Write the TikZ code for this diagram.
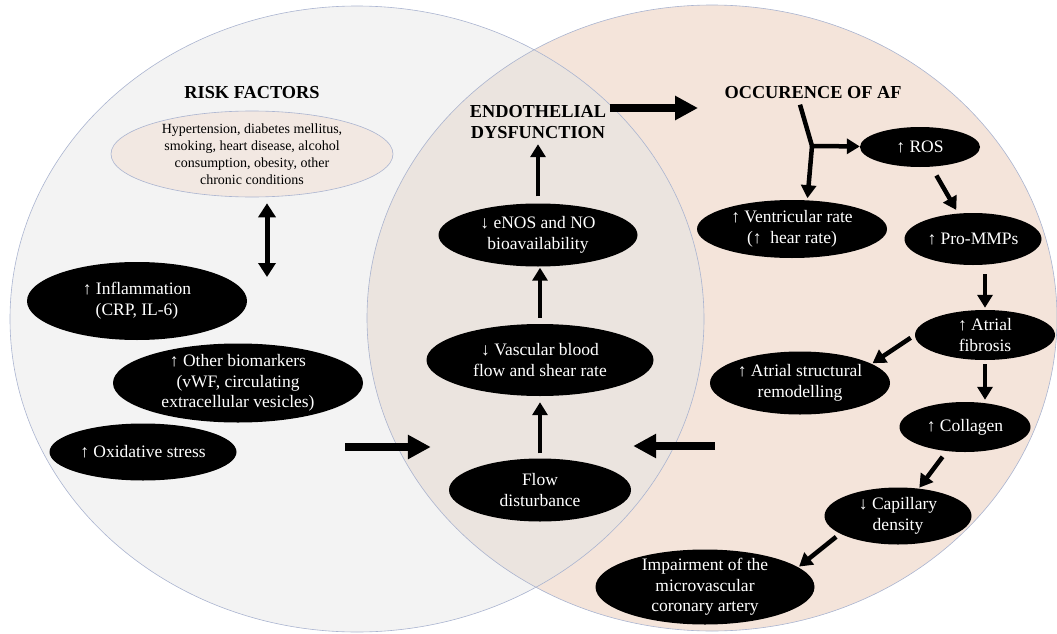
\documentclass[tikz,border=0pt]{standalone}
\usepackage{fontspec}
\setmainfont{Liberation Serif}
\usetikzlibrary{arrows.meta,shapes.geometric}

\definecolor{leftfill}{RGB}{243,243,243}
\definecolor{rightfill}{RGB}{244,228,218}
\definecolor{overlapfill}{RGB}{235,228,223}
\definecolor{rimblue}{RGB}{170,180,208}
\definecolor{riskfill}{RGB}{242,232,226}

\begin{document}
\begin{tikzpicture}[x=1pt, y=-1pt,
    blob/.style={ellipse, fill=black, text=white, align=center, inner sep=0pt, font=\fontsize{17.5}{20.7}\selectfont},
    heading/.style={align=center, font=\fontsize{18.3}{21}\selectfont\bfseries},
    flowarrow/.style={line width=4.5pt, -{Triangle[length=13pt,width=15pt]}},
    bigarrow/.style={line width=8.5pt, -{Triangle[length=23pt,width=23pt]}},
    dblarrow/.style={line width=5pt, {Triangle[length=14pt,width=17pt]}-{Triangle[length=14pt,width=17pt]}},
]
    \useasboundingbox (0,0) rectangle (1057,634);

    \fill[leftfill] (357,319) ellipse [x radius=347pt, y radius=313pt];
    \fill[rightfill] (712,318) ellipse [x radius=345pt, y radius=313pt];
    \begin{scope}
        \clip (357,319) ellipse [x radius=347pt, y radius=313pt];
        \fill[overlapfill] (712,318) ellipse [x radius=345pt, y radius=313pt];
    \end{scope}
    \draw[rimblue, line width=0.6pt] (357,319) ellipse [x radius=347pt, y radius=313pt];
    \draw[rimblue, line width=0.6pt] (712,318) ellipse [x radius=345pt, y radius=313pt];

    \node[heading] (riskhead) at (252,93) {RISK FACTORS};
    \node[ellipse, draw=rimblue, fill=riskfill, line width=0.6pt, inner xsep=0pt, inner ysep=-4pt,
          minimum width=282pt, minimum height=86pt, align=center, font=\fontsize{14}{17}\selectfont]
          (risk) at (252,154) {Hypertension, diabetes mellitus,\\smoking, heart disease, alcohol\\consumption, obesity, other\\chronic conditions};
    \node[blob, minimum width=220pt, minimum height=78pt] (inflam) at (137,301) {↑ Inflammation\\(CRP, IL-6)};
    \node[blob, minimum width=250pt, minimum height=79pt, inner ysep=-4pt] (biomark) at (238,383) {↑ Other biomarkers\\(vWF, circulating\\extracellular vesicles)};
    \node[blob, minimum width=187pt, minimum height=57pt] (oxid) at (143,452) {↑ Oxidative stress};

    \node[heading] (endo) at (538,122) {ENDOTHELIAL\\DYSFUNCTION};
    \node[blob, minimum width=199pt, minimum height=63pt] (enos) at (538,235) {↓ eNOS and NO\\bioavailability};
    \node[blob, minimum width=227pt, minimum height=72pt] (vasc) at (540,360) {↓ Vascular blood\\flow and shear rate};
    \node[blob, minimum width=182pt, minimum height=63pt] (flow) at (540,490) {Flow\\disturbance};

    \node[heading] (occ) at (813,93) {OCCURENCE OF AF};
    \node[blob, minimum width=120pt, minimum height=40pt] (ros) at (920,147) {↑ ROS};
    \node[blob, minimum width=190pt, minimum height=58pt] (vent) at (792,229) {↑ Ventricular rate\\(↑\ \ hear rate)};
    \node[blob, minimum width=137pt, minimum height=52pt] (mmp) at (973,239) {↑ Pro-MMPs};
    \node[blob, minimum width=140pt, minimum height=50pt, inner ysep=-3pt] (fib) at (985,335) {↑ Atrial\\fibrosis};
    \node[blob, minimum width=180pt, minimum height=63pt] (struct) at (800,383) {↑ Atrial structural\\remodelling};
    \node[blob, minimum width=131pt, minimum height=50pt] (coll) at (965,427) {↑ Collagen};
    \node[blob, minimum width=147pt, minimum height=57pt] (cap) at (898,516) {↓ Capillary\\density};
    \node[blob, minimum width=219pt, minimum height=75pt, inner ysep=-4pt] (imp) at (705,587) {Impairment of the\\microvascular\\coronary artery};

    \coordinate (dblend) at (267,277);
    \coordinate (leftin) at (345,447);
    \coordinate (rightin) at (715,446);
    \coordinate (fork) at (812,146);

    \draw[dblarrow, shorten <=6pt] (dblend |- risk.south) -- (dblend);
    \draw[bigarrow, shorten >=18pt] (leftin) -- (leftin -| flow.west);
    \draw[bigarrow, shorten >=2pt] (rightin) -- (rightin -| flow.east);
    \draw[bigarrow, shorten >=23pt] ([yshift=14pt]endo.east) -- ([yshift=14pt]endo.east -| occ.west);

    \draw[flowarrow, shorten <=5pt, shorten >=6pt] (flow.north) -- (flow.north |- vasc.south);
    \draw[flowarrow, shorten <=6pt, shorten >=1pt] (vasc.north) -- (vasc.north |- enos.south);
    \draw[flowarrow, shorten <=7pt, shorten >=2pt] (enos.north) -- (enos.north |- endo.south);

    \draw[line width=4.5pt] ([xshift=-13pt,yshift=-2pt]occ.south) -- (fork);
    \draw[flowarrow] (fork) -- (ros);
    \draw[flowarrow, shorten >=2pt] (fork) -- (vent.62);
    \draw[flowarrow, shorten <=10pt, shorten >=4pt] (ros) -- (mmp);
    \draw[flowarrow, shorten <=9pt, shorten >=2pt] (fib |- mmp.south) -- (fib.north);
    \draw[flowarrow, shorten <=5pt, shorten >=1pt] (fib.west) -- (struct.15);
    \draw[flowarrow, shorten <=4pt, shorten >=2pt] (fib.south) -- (fib.south |- coll.north);
    \draw[flowarrow, shorten <=7pt, shorten >=1pt] (coll) -- (cap);
    \draw[flowarrow, shorten <=5pt, shorten >=1pt] (cap.197) -- (imp.12);
\end{tikzpicture}
\end{document}
